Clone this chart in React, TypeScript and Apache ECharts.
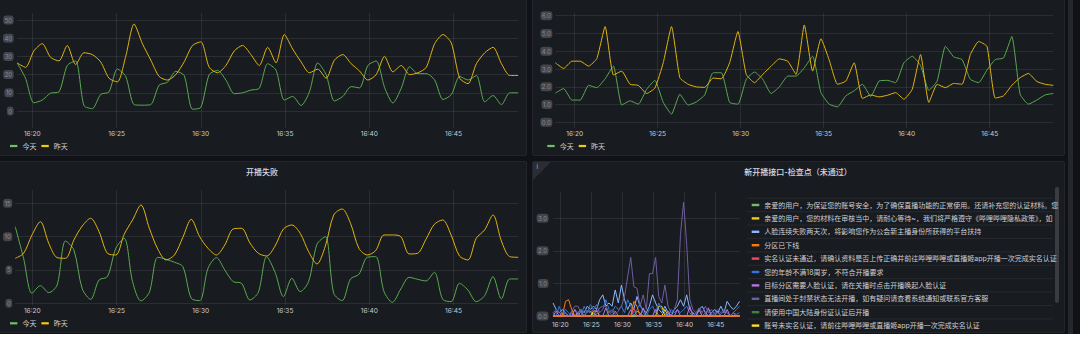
import React, { useEffect, useRef } from 'react';
import * as echarts from 'echarts';

// ---------- data ----------
const START_TIME = new Date(2024, 5, 18, 16, 18, 50).getTime();
const STEP_MS = 30000;
const POINT_COUNT = 61;
const times: number[] = Array.from({ length: POINT_COUNT }, (_, i) => START_TIME + i * STEP_MS);
const END_TIME = times[POINT_COUNT - 1];

const dayNames = ['今天', '昨天'];

const tlToday = [
  26.4, 18, 4.5, 6, 9.8, 10.5, 25, 27.5, 3, 1.3,
  9.1, 10.5, 23.1, 19, 3.5, 3.2, 3.5, 14.2, 15.8, 21.8,
  19.5, 1, 2, 20, 22.3, 17, 9.5, 10, 11.5, 12.5,
  26, 22.5, 6, 8, 3, 10.5, 26.5, 20, 5.5, 8,
  13.4, 12.7, 25, 27.5, 13, 4.4, 12.5, 24.3, 20.5, 20.5,
  17, 6.3, 9, 19, 17, 19.5, 5, 8.5, 3.5, 10,
  10,
];
const tlYesterday = [
  26.4, 24, 33, 37, 29.5, 27.5, 36, 25.5, 32, 31,
  27, 18, 16, 30, 47.8, 37, 28, 19, 17, 20,
  27, 36, 38, 24, 21, 25, 33, 36, 31, 25,
  35, 26.5, 42, 34, 27, 21, 23, 18, 28, 31,
  26, 22, 17, 20, 30, 21.5, 25, 20, 21, 24,
  37, 42, 37.3, 18, 15, 26, 32, 35, 26, 19.5,
  19.5,
];
const trToday = [
  1.64, 1.9, 1.25, 1.25, 2.08, 1.95, 2.45, 3.16, 0.97, 1.21,
  1.02, 1.86, 2.36, 1.12, 0.46, 1.58, 0.97, 1.15, 1.54, 2.79,
  2.79, 1.12, 1.02, 2.42, 2.83, 2.42, 1.62, 2.0, 2.6, 2.6,
  3.07, 3.72, 1.67, 1.02, 0.87, 1.49, 1.77, 2.14, 1.45, 2.32,
  2.36, 2.23, 3.35, 3.72, 3.2, 1.8, 2.32, 4.28, 3.68, 3.53,
  2.42, 2.23, 2.94, 3.53, 3.62, 4.83, 1.58, 1.02, 1.25, 1.54,
  1.62,
];
const trYesterday = [
  3.35, 3.03, 3.44, 3.44, 3.16, 3.59, 5.39, 2.66, 2.88, 2.14,
  2.08, 1.62, 1.93, 3.35, 5.39, 2.51, 2.14, 1.99, 1.97, 2.49,
  2.45, 3.35, 5.11, 2.7, 2.23, 2.7, 3.16, 3.57, 3.44, 2.7,
  5.48, 2.88, 4.7, 3.5, 2.14, 2.32, 3.35, 1.34, 1.54, 1.43,
  1.52, 1.67, 1.3, 1.86, 3.81, 1.12, 2.14, 1.95, 2.19, 2.14,
  3.81, 4.55, 4.28, 1.36, 1.49, 2.08, 2.51, 2.75, 2.3, 2.14,
  2.08,
];
const blToday = [
  11.5, 6.75, 1.5, 2.65, 1.6, 2.75, 9.35, 8, 2.15, 0.6,
  3.5, 4, 8.25, 9.75, 3.25, 0.35, 1.65, 6.9, 6.6, 6.15,
  5.5, 0.75, 0.4, 5.25, 6.85, 5, 3.25, 3, 0.5, 1.65,
  7, 4.65, 1, 3.75, 1.75, 3.25, 8.85, 10, 1.5, 0.4,
  3.65, 4.35, 6.9, 7, 1.75, 0.15, 2.15, 3.9, 3.6, 3.35,
  4.65, 0.6, 0.25, 3, 2, 0.25, 1.15, 4, 0.65, 3.65,
  3.65,
];
const blYesterday = [
  6.75, 7.5, 10.25, 12.25, 9, 6.85, 6.75, 9.5, 11.6, 12.75,
  10.75, 7.5, 7.25, 10.35, 12.5, 14.75, 11.25, 8.15, 6.5, 7.25,
  9.9, 12.6, 10, 8.25, 7.25, 8.75, 11.15, 11.25, 9.05, 7.5,
  7.1, 8.6, 11.15, 11.75, 10.5, 7.75, 5.9, 8.6, 13.25, 14.15,
  12, 8.25, 7.25, 7.9, 10.25, 10.25, 10, 7.4, 7.5, 9.6,
  11.85, 12.5, 10.25, 7.1, 6.5, 9.75, 11, 13.25, 9.35, 7,
  6.9,
];

const brNames = [
  '亲爱的用户，为保证您的账号安全，为了确保直播功能的正常使用。还请补充您的认证材料。您',
  '亲爱的用户，您的材料在审核当中，请耐心等待~，我们将严格遵守《哔哩哔哩隐私政策》，如',
  '人脸连续失败两天次，将影响您作为公会新主播身份所获得的平台扶持',
  '分区已下线',
  '实名认证未通过，请确认资料是否上传正确并前往哔哩哔哩或直播姬app开播一次完成实名认证',
  '您的年龄不满18周岁，不符合开播要求',
  '目标分区需要人脸认证，请在关播时点击开播唤起人脸认证',
  '直播间处于封禁状态无法开播，如有疑问请查看系统通知或联系官方客服',
  '请使用中国大陆身份证认证后开播',
  '账号未实名认证，请前往哔哩哔哩或直播姬app开播一次完成实名认证',
];
const brColors = ['#73BF69', '#F2CC0C', '#8AB8FF', '#FF780A', '#F2495C', '#3274D9', '#B877D9', '#705DA0', '#37872D', '#FADE2A'];

const brGreen = [
  0, 0, 0, 0, 0, 0, 0, 0, 0, 0,
  0, 0.15, 0.15, 0, 0, 0, 0, 0, 0, 0,
  0, 0, 0, 0, 0, 0, 0, 0.15, 0.1, 0,
  0, 0, 0, 0, 0, 0, 0, 0, 0, 0,
  0, 0, 0, 0, 0, 0, 0, 0, 0, 0,
  0, 0, 0, 0, 0, 0, 0, 0, 0, 0,
  0,
];
const brYellow = [
  0, 0, 0, 0, 0, 0, 0, 0, 0, 0,
  0, 0, 0, 0.15, 0.15, 0, 0, 0, 0, 0,
  0, 0, 0, 0, 0, 0, 0, 0, 0, 0,
  0, 0, 0, 0, 0.3, 0.3, 0, 0, 0, 0,
  0, 0, 0, 0, 0, 0, 0, 0, 0, 0,
  0, 0, 0, 0, 0, 0, 0, 0, 0, 0,
  0,
];
const brLightBlue = [
  0.4, 0.2, 0.1, 0.2, 0.1, 0, 0.1, 0, 0.1, 0.2,
  0.1, 0.3, 0.2, 0.3, 0.2, 0.5, 0.65, 0.3, 0.4, 0.3,
  0.8, 0.4, 0.95, 0.5, 0.2, 0.4, 0.2, 0.6, 0.3, 0.2,
  0.1, 0.3, 0.65, 0.4, 0.2, 0.1, 0.3, 0.1, 0, 0.2,
  0.3, 0.5, 0.3, 0.65, 0.2, 0.1, 0, 0.2, 0.3, 0.1,
  0, 0.1, 0.2, 0.1, 0.3, 0.1, 0.45, 0.3, 0.2, 0.3,
  0.45,
];
const brOrange = [
  0, 0, 0, 0, 0.45, 0.5, 0.2, 0, 0, 0,
  0, 0, 0, 0, 0, 0, 0, 0, 0, 0,
  0, 0, 0, 0, 0, 0, 0.45, 0.3, 0, 0,
  0, 0, 0, 0, 0, 0, 0, 0, 0, 0,
  0, 0, 0, 0, 0, 0, 0, 0, 0, 0,
  0, 0, 0, 0, 0, 0, 0, 0, 0, 0,
  0,
];
const brRed = [
  0, 0, 0, 0, 0, 0, 0, 0, 0, 0,
  0, 0, 0, 0, 0, 0, 0, 0, 0, 0,
  0, 0, 0, 0, 0, 0, 0.25, 0, 0, 0,
  0, 0, 0, 0, 0, 0, 0, 0, 0, 0,
  0, 0, 0, 0, 0, 0, 0, 0, 0, 0,
  0, 0, 0, 0, 0, 0, 0, 0, 0, 0,
  0,
];
const brBlue = [
  0.1, 0, 0.3, 0, 0.2, 0.1, 0, 0.2, 0.1, 0,
  0.3, 0.1, 0.35, 0.2, 0.35, 0.1, 0.2, 0.5, 0.2, 0.1,
  0.3, 0.2, 0.3, 0.1, 0.5, 0.3, 0.1, 0.2, 0.4, 0.1,
  0, 0.2, 0.3, 0.1, 0.4, 0.2, 0.1, 0, 0.2, 0.1,
  0.2, 0.1, 0.2, 0.3, 0.1, 0, 0.1, 0.2, 0, 0.1,
  0.2, 0, 0.1, 0.2, 0.1, 0.2, 0.1, 0, 0.1, 0.2,
  0.3,
];
const brPink = [
  0, 0.15, 0, 0.1, 0, 0, 0, 0.2, 0, 0.15,
  0, 0, 0, 0, 0.2, 0, 0, 0.25, 0, 0,
  0.15, 0, 0, 0, 0, 0.2, 0, 0, 0, 0.25,
  0, 0, 0, 0.2, 0, 0, 0, 0.15, 0, 0,
  0.2, 0, 0, 0, 0.3, 0, 0, 0.2, 0, 0,
  0.25, 0, 0, 0.15, 0, 0, 0.2, 0, 0.1, 0,
  0,
];
const brPurple = [
  0.1, 0.2, 0.1, 0.05, 0.1, 0, 0.15, 0.3, 0.3, 0.1,
  0, 0.15, 0.1, 0.2, 0.05, 0.25, 0.3, 0.3, 0.1, 0.2,
  0.05, 0.15, 0.3, 0.6, 1.2, 1.8, 0.9, 0.85, 0.3, 0.65,
  0.2, 1.3, 1.3, 1.8, 0.6, 0.4, 0.95, 0.3, 0.1, 0.2,
  0.5, 2.5, 3.5, 2.2, 0.5, 0.2, 0.1, 0.25, 0.1, 0.3,
  0.1, 0.2, 0.05, 0.1, 0.05, 0.15, 0.1, 0, 0.1, 0.05,
  0.1,
];
const brDarkGreen = [
  0, 0, 0, 0, 0, 0, 0, 0, 0.1, 0,
  0, 0, 0, 0, 0, 0, 0, 0, 0.15, 0,
  0, 0, 0, 0, 0, 0, 0, 0, 0, 0,
  0.1, 0, 0, 0, 0, 0, 0, 0, 0, 0,
  0, 0, 0, 0, 0, 0.1, 0, 0, 0, 0,
  0, 0, 0, 0, 0, 0, 0, 0, 0, 0,
  0,
];
const brYellow2 = [
  0, 0, 0, 0, 0, 0, 0, 0, 0, 0,
  0, 0, 0, 0.1, 0, 0, 0, 0, 0, 0,
  0, 0, 0, 0, 0, 0, 0, 0, 0, 0,
  0, 0, 0, 0, 0, 0, 0.2, 0, 0, 0,
  0, 0, 0, 0, 0, 0, 0, 0, 0, 0,
  0, 0, 0, 0, 0, 0, 0, 0, 0, 0,
  0,
];
const brValues = [brGreen, brYellow, brLightBlue, brOrange, brRed, brBlue, brPink, brPurple, brDarkGreen, brYellow2];

const panelTitles = ['开播失败', '新开播接口-检查点（未通过）'];

// ---------- styling ----------
const FONT = 'Inter, "Noto Sans CJK SC", sans-serif';
const AXIS_TEXT = '#cbccd3';
const LEGEND_TEXT = '#cdced5';
const GRID_LINE = 'rgba(204,204,220,0.1)';
const GREEN_ICON = '#73BF69';
const YELLOW_ICON = '#F2CC0C';
const GREEN_LINE = '#5AAA50';
const YELLOW_LINE = '#E2B410';

type Geo = {
  x1620: number; pxPerMin: number;
  frameTop: number; frameBottom: number;
  dataTop: number; dataBottom: number;
  yMax: number; yInterval: number; yMargin: number; xMargin: number;
  yFmt: (v: number) => string;
};

const geos: Geo[] = [
  { x1620: 32.3, pxPerMin: 16.85, frameTop: 13, frameBottom: 128, dataTop: 20, dataBottom: 111, yMax: 50, yInterval: 10, yMargin: 3.5, xMargin: 2.6, yFmt: (v) => String(v) },
  { x1620: 574.7, pxPerMin: 16.6, frameTop: 13, frameBottom: 128, dataTop: 15.7, dataBottom: 122.3, yMax: 6, yInterval: 1, yMargin: 3, xMargin: 2.6, yFmt: (v) => v.toFixed(1) },
  { x1620: 32.3, pxPerMin: 16.85, frameTop: 190, frameBottom: 305, dataTop: 203.3, dataBottom: 303.3, yMax: 15, yInterval: 5, yMargin: 3, xMargin: 3.2, yFmt: (v) => String(v) },
  { x1620: 560.3, pxPerMin: 6.216, frameTop: 191.7, frameBottom: 318, dataTop: 218.3, dataBottom: 316, yMax: 3, yInterval: 1, yMargin: 4.5, xMargin: 3.5, yFmt: (v) => v.toFixed(1) },
];

function buildOption() {
  const grid: any[] = [];
  const xAxis: any[] = [];
  const yAxis: any[] = [];
  geos.forEach((g) => {
    const left = g.x1620 - (70 / 60) * g.pxPerMin;
    const width = 30 * g.pxPerMin;
    grid.push({ left, width, top: g.frameTop, height: g.frameBottom - g.frameTop, containLabel: false });
    grid.push({ left, width, top: g.dataTop, height: g.dataBottom - g.dataTop, containLabel: false });
    const fi = grid.length - 2;
    const di = grid.length - 1;
    xAxis.push({
      type: 'time', gridIndex: fi, min: START_TIME, max: END_TIME,
      minInterval: 330000, maxInterval: 330000,
      axisLine: { show: false }, axisTick: { show: false },
      splitLine: { show: true, showMinLine: false, showMaxLine: false, lineStyle: { color: GRID_LINE, width: 1 } },
      axisLabel: {
        color: AXIS_TEXT, fontSize: 6.6, fontFamily: FONT, margin: g.xMargin,
        formatter: '{HH}:{mm}', showMinLabel: false, showMaxLabel: false,
      },
    });
    xAxis.push({ type: 'time', gridIndex: di, min: START_TIME, max: END_TIME, show: false });
    yAxis.push({ type: 'value', gridIndex: fi, min: 0, max: 1, show: false });
    yAxis.push({
      type: 'value', gridIndex: di, min: 0, max: g.yMax, interval: g.yInterval,
      axisLine: { show: false }, axisTick: { show: false },
      splitLine: { show: true, lineStyle: { color: GRID_LINE, width: 1 } },
      axisLabel: {
        margin: g.yMargin, fontSize: 6, fontFamily: FONT,
        color: 'rgba(225,225,232,0.45)',
        backgroundColor: 'rgba(150,150,160,0.35)', borderRadius: 3, padding: [1.5, 1.5],
        formatter: g.yFmt,
      },
    });
  });

  const line = (name: string, vals: number[], p: number, color: string, smooth: number | boolean, z = 2) => ({
    type: 'line', name, xAxisIndex: p * 2 + 1, yAxisIndex: p * 2 + 1,
    data: times.map((t, i) => [t, vals[i]]),
    showSymbol: false, symbol: 'none', smooth, clip: false, z,
    lineStyle: { width: 1, color }, itemStyle: { color },
    emphasis: { disabled: true },
  });

  const series: any[] = [
    line(dayNames[0], tlToday, 0, GREEN_LINE, 0.25),
    line(dayNames[1], tlYesterday, 0, YELLOW_LINE, 0.25),
    line(dayNames[0], trToday, 1, GREEN_LINE, 0.15),
    line(dayNames[1], trYesterday, 1, YELLOW_LINE, 0.15),
    line(dayNames[0], blToday, 2, GREEN_LINE, 0.3),
    line(dayNames[1], blYesterday, 2, YELLOW_LINE, 0.3),
  ];
  const brZ = [2, 2, 3, 6, 5, 3, 3, 4, 2, 2];
  brNames.forEach((n, i) => series.push(line(n, brValues[i], 3, brColors[i], false, brZ[i])));

  const smallLegend = (left: number, top: number) => ({
    data: [
      { name: dayNames[0], itemStyle: { color: GREEN_ICON } },
      { name: dayNames[1], itemStyle: { color: YELLOW_ICON } },
    ],
    left, top, orient: 'horizontal', icon: 'rect',
    itemWidth: 7.4, itemHeight: 2.2, itemGap: 5, padding: 0, selectedMode: false,
    textStyle: { color: LEGEND_TEXT, fontSize: 7, fontFamily: FONT, lineHeight: 8 },
  });

  const legend: any[] = [
    smallLegend(10, 142),
    smallLegend(547.3, 142),
    smallLegend(10, 319.3),
    {
      data: brNames, left: 751.7, top: 200.5, orient: 'vertical', icon: 'rect',
      itemWidth: 7.6, itemHeight: 2.4, itemGap: 4.4, padding: 0, selectedMode: false,
      textStyle: { color: LEGEND_TEXT, fontSize: 7, fontFamily: FONT, lineHeight: 9, width: 296, overflow: 'truncate', ellipsis: '' },
    },
  ];

  const graphic: any[] = [
    { type: 'text', x: 262, y: 171.7, style: { text: panelTitles[0], fill: '#d8d9e0', fontSize: 8, fontWeight: 500, fontFamily: FONT, align: 'center', verticalAlign: 'middle' } },
    { type: 'text', x: 798, y: 171.7, style: { text: panelTitles[1], fill: '#d8d9e0', fontSize: 8, fontWeight: 500, fontFamily: FONT, align: 'center', verticalAlign: 'middle' } },
    { type: 'polygon', shape: { points: [[533, 162], [551, 162], [533, 180]] }, style: { fill: '#2a2d33' } },
    { type: 'text', x: 537.3, y: 166.7, style: { text: 'i', fill: '#b8b9c0', fontSize: 6, fontFamily: FONT, align: 'center', verticalAlign: 'middle' } },
    { type: 'rect', shape: { x: 1055, y: 187, width: 4, height: 116, r: 2 }, style: { fill: '#3a3c41' } },
  ];
  for (let i = 0; i < brNames.length; i++) {
    const y = 198.3 + 13.4 * i;
    graphic.push({ type: 'line', shape: { x1: 747, y1: y, x2: 1053, y2: y }, style: { stroke: 'rgba(204,204,220,0.08)', lineWidth: 1 } });
  }

  return { animation: false, grid, xAxis, yAxis, series, legend, graphic };
}

const panels = [
  { left: -2, top: -10, width: 529, height: 166 },
  { left: 532, top: -10, width: 533, height: 166 },
  { left: -2, top: 161, width: 529, height: 172 },
  { left: 532, top: 161, width: 533, height: 172 },
];

export default function App() {
  const ref = useRef<HTMLDivElement>(null);
  useEffect(() => {
    if (!ref.current) return;
    const chart = echarts.init(ref.current, undefined, { renderer: 'svg' });
    chart.setOption(buildOption() as any);
    return () => chart.dispose();
  }, []);
  return (
    <div style={{ position: 'fixed', left: 0, top: 0, width: 1080, height: 353, background: '#ffffff', overflow: 'hidden' }}>
      <div style={{ position: 'absolute', left: 0, top: 0, width: 1080, height: 334, background: '#111217' }} />
      {panels.map((p, i) => (
        <div key={i} style={{ position: 'absolute', left: p.left, top: p.top, width: p.width, height: p.height, background: '#181b1f', border: '1px solid #22252a', borderRadius: 2, boxSizing: 'border-box' }} />
      ))}
      <div style={{ position: 'absolute', left: 1068, top: 0, width: 5, height: 334, background: '#25272b' }} />
      <div ref={ref} style={{ position: 'absolute', left: 0, top: 0, width: 1080, height: 353 }} />
    </div>
  );
}
